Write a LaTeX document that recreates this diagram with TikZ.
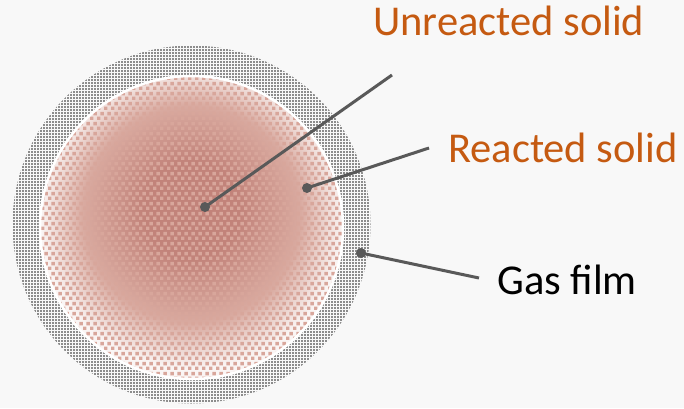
\documentclass[tikz,border=0pt]{standalone}
\usepackage{fontspec}
\setmainfont{Carlito}
\usetikzlibrary{patterns}

\definecolor{bgcol}{HTML}{F8F8F8}
\definecolor{labelorange}{HTML}{C55A11}
\definecolor{leadergray}{HTML}{595959}
\definecolor{filmgray}{HTML}{8C8C8C}
\definecolor{solidsq}{HTML}{D8A69B}
\definecolor{coredark}{HTML}{C2837A}
\definecolor{coremid}{HTML}{D9AAA0}
\definecolor{corelight}{HTML}{FAF5F4}

% small squares for the two layers
\pgfdeclarepatternformonly{film squares}{\pgfpointorigin}{\pgfqpoint{3.4pt}{3.4pt}}{\pgfqpoint{3.4pt}{3.4pt}}{
  \pgfpathrectangle{\pgfpointorigin}{\pgfqpoint{2.1pt}{2.1pt}}
  \pgfusepath{fill}}
\pgfdeclarepatternformonly{solid squares}{\pgfpointorigin}{\pgfqpoint{6.8pt}{9.6pt}}{\pgfqpoint{6.8pt}{9.6pt}}{
  \pgfpathrectangle{\pgfpointorigin}{\pgfqpoint{3.6pt}{3.6pt}}
  \pgfpathrectangle{\pgfqpoint{3.4pt}{4.8pt}}{\pgfqpoint{3.6pt}{3.6pt}}
  \pgfusepath{fill}}

% core glow, dark in the middle and fading out to the rim (rim at 25bp)
\pgfdeclareradialshading{coreglow}{\pgfpoint{0bp}{3.5bp}}{color(0bp)=(coredark); color(8bp)=(coredark); color(18bp)=(coremid); color(25bp)=(corelight); color(50bp)=(corelight)}

\begin{document}
\begin{tikzpicture}[x=1pt, y=-1pt,
    dot/.style={circle, fill=leadergray, inner sep=0, minimum size=10pt},
    leader/.style={draw=leadergray, line width=3pt},
    layer label/.style={anchor=base west, inner sep=0, font=\fontsize{42.5}{50}\selectfont}]
        \useasboundingbox[fill=bgcol] (0,0) rectangle (684,408);
        % gas film
        \fill[pattern=film squares, pattern color=filmgray] (191.5,224.5) circle (179);
        % reacted solid around the core
        \shade[shading=coreglow] (191.5,227.5) circle (151.5);
        \fill[pattern=solid squares, pattern color=solidsq] (191.5,227.5) circle (151.5);
        \draw[white, line width=2.5pt] (191.5,227.5) circle (151.5);
        % pointers
        \node [dot] (core) at (205,207) {};
        \node [dot] (shell) at (307,188) {};
        \node [dot] (film) at (361,253) {};
        \coordinate (coreend) at (392,75);
        \coordinate (shellend) at (429,148);
        \coordinate (filmend) at (479,278);
        \draw[leader] (core.center) -- (coreend);
        \draw[leader] (shell.center) -- (shellend);
        \draw[leader] (film.center) -- (filmend);
        % labels
        \node [layer label, text=labelorange] (unreacted) at (373,35) {Unreacted solid};
        \node [layer label, text=labelorange] (reacted) at (448,162) {Reacted solid};
        \node [layer label, text=black] (gas) at (497,294) {Gas film};
\end{tikzpicture}
\end{document}
